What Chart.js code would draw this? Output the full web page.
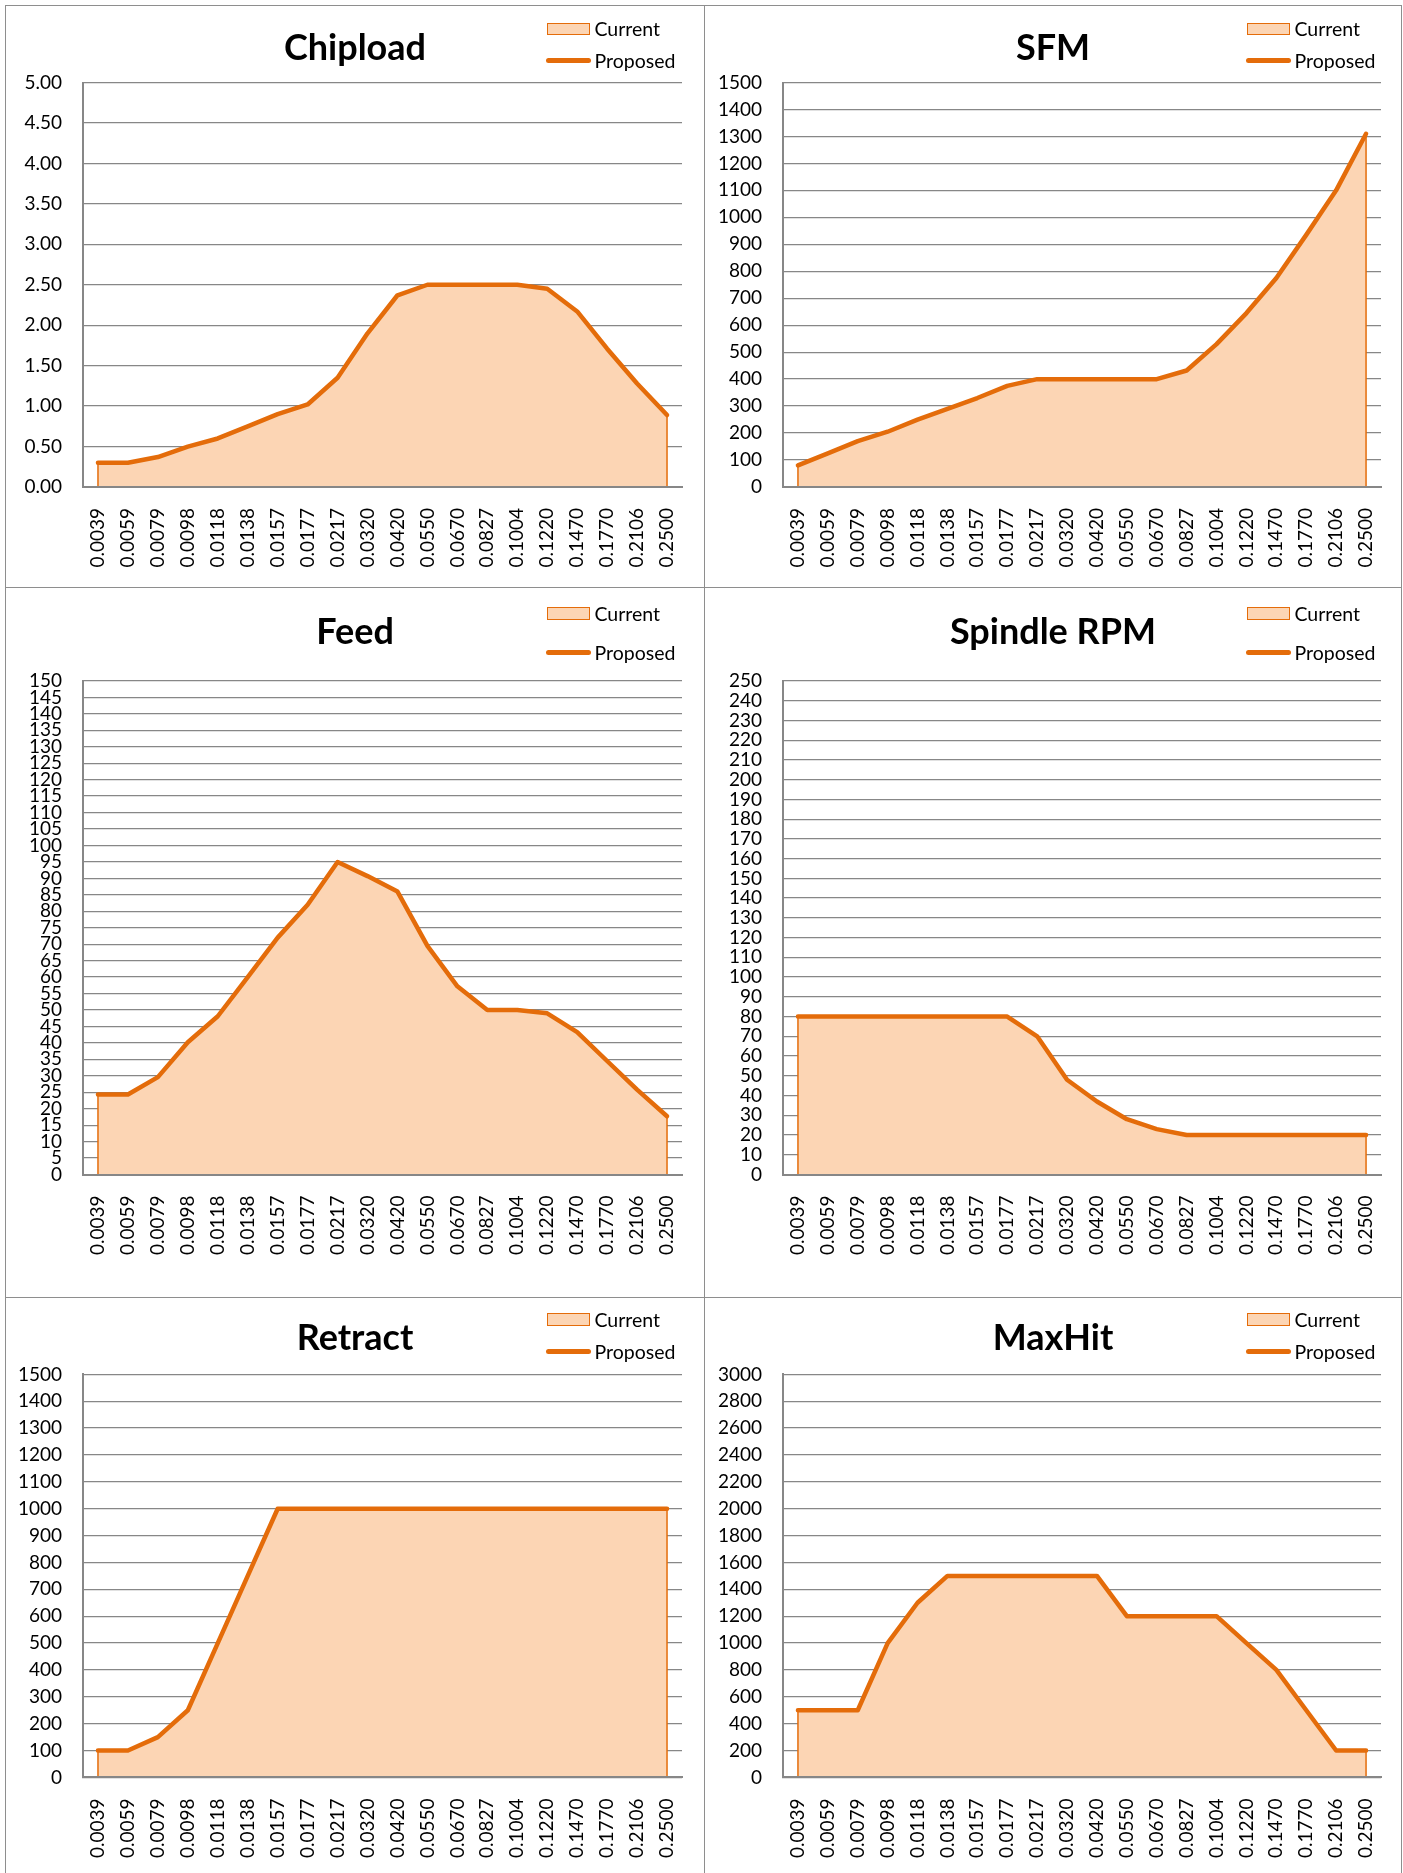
<!DOCTYPE html>
<html>
<head>
<meta charset="utf-8">
<title>Chipload / SFM / Feed / Spindle RPM / Retract / MaxHit</title>
<script src="https://cdn.jsdelivr.net/npm/chart.js@4.4.0/dist/chart.umd.min.js"></script>
<style>
  body { margin: 0; background: #fff; width: 1403px; height: 1873px; position: relative; overflow: hidden; font-family: Lato, sans-serif; }
  .rule { position: absolute; background: #8e8e8e; }
  .panel { position: absolute; }
  .panel canvas { position: absolute; left: 0; top: 0; }
  .title { position: absolute; left: 0; width: 100%; text-align: center; font: bold 36px/36px Lato, sans-serif; color: #000; }
  .leg { position: absolute; height: 20px; display: flex; align-items: center; font: 19.5px/20px Lato, sans-serif; color: #000; white-space: nowrap; }
  .sw-area { width: 43px; height: 12.5px; box-sizing: border-box; border: 1.5px solid #E46C0A; background: #FCD5B4; margin-right: 5px; }
  .sw-line { width: 45px; height: 4.5px; border-radius: 2.5px; background: #E46C0A; margin-right: 4px; }
</style>
</head>
<body>
<div class="rule" style="left:5px;top:5px;width:1px;height:1868px"></div>
<div class="rule" style="left:704px;top:5px;width:1px;height:1868px"></div>
<div class="rule" style="left:1401px;top:5px;width:1px;height:1868px"></div>
<div class="rule" style="left:5px;top:5px;width:1397px;height:1px"></div>
<div class="rule" style="left:5px;top:587px;width:1397px;height:1px"></div>
<div class="rule" style="left:5px;top:1297px;width:1397px;height:1px"></div>

<script>
// tool diameters (x categories)
const sizes = ["0.0039", "0.0059", "0.0079", "0.0098", "0.0118", "0.0138", "0.0157",
  "0.0177", "0.0217", "0.0320", "0.0420", "0.0550", "0.0670", "0.0827", "0.1004",
  "0.1220", "0.1470", "0.1770", "0.2106", "0.2500"];

const chipload = [0.30, 0.30, 0.37, 0.50, 0.60, 0.75, 0.90, 1.02, 1.35, 1.90,
  2.37, 2.50, 2.50, 2.50, 2.50, 2.45, 2.17, 1.71, 1.28, 0.89];
const sfm = [80, 125, 170, 205, 250, 290, 330, 375, 400, 400,
  400, 400, 400, 432, 530, 645, 775, 935, 1100, 1310];
const feed = [24.3, 24.3, 29.6, 40.2, 48.1, 60, 72, 82, 95, 90.7,
  86, 69.5, 57.2, 50, 50, 49, 43.3, 34.5, 25.8, 17.7];
const spindleRpm = [80, 80, 80, 80, 80, 80, 80, 80, 70, 48,
  37, 28, 23, 20, 20, 20, 20, 20, 20, 20];
const retract = [100, 100, 150, 250, 500, 750, 1000, 1000, 1000, 1000,
  1000, 1000, 1000, 1000, 1000, 1000, 1000, 1000, 1000, 1000];
const maxHit = [500, 500, 500, 1000, 1300, 1500, 1500, 1500, 1500, 1500,
  1500, 1200, 1200, 1200, 1200, 1000, 800, 500, 200, 200];

const titles = ["Chipload", "SFM", "Feed", "Spindle RPM", "Retract", "MaxHit"];
const series = [chipload, sfm, feed, spindleRpm, retract, maxHit];
const yMax = [5, 1500, 150, 250, 1500, 3000];
const yStep = [0.5, 100, 5, 10, 100, 200];
const yDecimals = [2, 0, 0, 0, 0, 0];

// page geometry of the 2 x 3 grid
const cols = [
  { left: 6, width: 698, yw: 77, padR: 22, legX: 540.5 },
  { left: 705, width: 696, yw: 78, padR: 20, legX: 541.5 },
];
const rows = [
  { top: 6, height: 581, padT: 76.5, xh: 100, titleY: 22.3, boxY: 22.9, lineY: 54.5 },
  { top: 588, height: 709, padT: 93, xh: 122.5, titleY: 23.5, boxY: 25.5, lineY: 64.5 },
  { top: 1298, height: 575, padT: 76.4, xh: 95.6, titleY: 19.6, boxY: 21.7, lineY: 53.5 },
];

const ORANGE = "#E46C0A";
const PEACH = "#FCD5B4";
const GRID = "#878787";

Chart.defaults.font.family = "Lato, sans-serif";
Chart.defaults.color = "#000";

// closes the sides of the area like Excel does
const areaEdges = {
  id: "areaEdges",
  afterDatasetDraw(chart, args) {
    if (args.index !== 0) return;
    const pts = args.meta.data;
    const y0 = chart.scales.y.getPixelForValue(0);
    const ctx = chart.ctx;
    ctx.save();
    ctx.strokeStyle = ORANGE;
    ctx.lineWidth = 1.5;
    [pts[0], pts[pts.length - 1]].forEach((p) => {
      ctx.beginPath();
      ctx.moveTo(p.x, p.y);
      ctx.lineTo(p.x, y0);
      ctx.stroke();
    });
    ctx.restore();
  },
};

function makePanel(i) {
  const col = cols[i % 2];
  const row = rows[Math.floor(i / 2)];

  const panel = document.createElement("div");
  panel.className = "panel";
  panel.style.cssText = `left:${col.left}px;top:${row.top}px;width:${col.width}px;height:${row.height}px`;

  const canvas = document.createElement("canvas");
  canvas.width = col.width;
  canvas.height = row.height;
  panel.appendChild(canvas);

  panel.insertAdjacentHTML("beforeend", `
    <div class="title" style="top:${row.titleY}px">${titles[i]}</div>
    <div class="leg" style="left:${col.legX}px;top:${row.boxY - 10}px"><span class="sw-area"></span>Current</div>
    <div class="leg" style="left:${col.legX - 1}px;top:${row.lineY - 10}px"><span class="sw-line"></span>Proposed</div>`);
  document.body.appendChild(panel);

  new Chart(canvas, {
    type: "line",
    data: {
      labels: sizes,
      datasets: [
        {
          label: "Current",
          data: series[i],
          fill: "origin",
          backgroundColor: PEACH,
          borderColor: ORANGE,
          borderWidth: 1.5,
          pointRadius: 0,
          tension: 0,
          order: 2,
        },
        {
          label: "Proposed",
          data: series[i],
          fill: false,
          borderColor: ORANGE,
          borderWidth: 4.5,
          borderCapStyle: "round",
          borderJoinStyle: "round",
          pointRadius: 0,
          tension: 0,
          order: 1,
        },
      ],
    },
    options: {
      responsive: false,
      animation: false,
      devicePixelRatio: 1,
      layout: { padding: { top: row.padT, right: col.padR, left: 0, bottom: 0 } },
      plugins: { legend: { display: false }, title: { display: false }, tooltip: { enabled: false } },
      scales: {
        x: {
          offset: true,
          grid: { display: false, drawTicks: false },
          border: { display: true, color: GRID, width: 2, z: 1 },
          ticks: { autoSkip: false, minRotation: 90, maxRotation: 90, padding: 21, font: { size: 19 } },
          afterFit: (s) => {
            s.height = row.xh;
            s.paddingLeft = 0;
            s.paddingRight = 0;
          },
        },
        y: {
          min: 0,
          max: yMax[i],
          grid: { color: GRID, lineWidth: 1.3, drawTicks: false },
          border: { display: true, color: GRID, width: 2, z: 1 },
          ticks: {
            stepSize: yStep[i],
            autoSkip: false,
            padding: 21,
            font: { size: 19 },
            callback: (v) => Number(v).toFixed(yDecimals[i]),
          },
          afterFit: (s) => { s.width = col.yw; },
        },
      },
    },
    plugins: [areaEdges],
  });
}

titles.forEach((t, i) => makePanel(i));
</script>
</body>
</html>
